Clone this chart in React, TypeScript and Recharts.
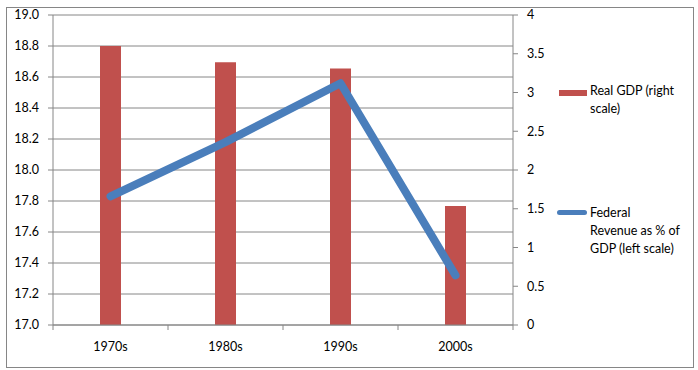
import React from 'react'
import { Bar, CartesianGrid, ComposedChart, Legend, Line, XAxis, YAxis } from 'recharts'

const categories = ['1970s', '1980s', '1990s', '2000s']
const realGdp = [3.6, 3.39, 3.31, 1.535]
const fedRevenue = [17.83, 18.18, 18.56, 17.32]
const leftTicks = [17.0, 17.2, 17.4, 17.6, 17.8, 18.0, 18.2, 18.4, 18.6, 18.8, 19.0]
const rightTicks = [0, 0.5, 1, 1.5, 2, 2.5, 3, 3.5, 4]

const data = categories.map((name, i) => ({
  name,
  gdp: realGdp[i],
  revenue: fedRevenue[i],
}))

const RED = '#c0504d'
const BLUE = '#4a7ebb'
const GRAY = '#868686'
const FONT = 'Lato, "Liberation Sans", sans-serif'
const X_MARGIN = 17

const CategoryTick = (props: any) => {
  const { x, y, payload, index, visibleTicksCount } = props
  const half = payload?.offset ?? 0
  const axisY = y - X_MARGIN
  return (
    <g>
      <line x1={x - half} x2={x - half} y1={axisY} y2={axisY + 5} stroke={GRAY} />
      {index === visibleTicksCount - 1 && (
        <line x1={x + half} x2={x + half} y1={axisY} y2={axisY + 5} stroke={GRAY} />
      )}
      <text x={x} y={y} dy="0.71em" textAnchor="middle" fill="#000" fontSize={12.5} fontFamily={FONT}>
        {payload.value}
      </text>
    </g>
  )
}

const LegendBox = () => (
  <div style={{ position: 'relative', width: 140, height: 190, fontFamily: FONT, fontSize: 12.5, lineHeight: '18px', color: '#000' }}>
    <div style={{ position: 'absolute', left: 4, top: 8, width: 28, height: 6, background: RED }} />
    <div style={{ position: 'absolute', left: 35, top: 0, whiteSpace: 'nowrap' }}>
      Real GDP (right<br />scale)
    </div>
    <div style={{ position: 'absolute', left: 2, top: 128, width: 30, height: 5, borderRadius: 3, background: BLUE }} />
    <div style={{ position: 'absolute', left: 35, top: 122, whiteSpace: 'nowrap' }}>
      Federal<br />Revenue as % of<br />GDP (left scale)
    </div>
  </div>
)

export default function App() {
  return (
    <div style={{ position: 'absolute', left: 0, top: 0, width: 698, height: 370, background: '#fff' }}>
      <div style={{ position: 'absolute', left: 6, top: 7, width: 686, height: 359, border: `1px solid ${GRAY}` }} />
      <ComposedChart width={698} height={370} data={data} margin={{ top: 15, right: 0, bottom: 0, left: 0 }}>
        <CartesianGrid yAxisId="left" vertical={false} stroke={GRAY} />
        <XAxis
          dataKey="name"
          height={45}
          stroke={GRAY}
          tickLine={false}
          tickSize={0}
          tickMargin={X_MARGIN}
          tick={<CategoryTick />}
          interval={0}
        />
        <YAxis
          yAxisId="left"
          width={53}
          domain={[17, 19]}
          ticks={leftTicks}
          interval={0}
          tickFormatter={(v: number) => v.toFixed(1)}
          stroke={GRAY}
          tickSize={5}
          tickMargin={9}
          tick={{ fill: '#000', fontSize: 12.5, fontFamily: FONT }}
        />
        <YAxis
          yAxisId="right"
          orientation="right"
          width={185}
          domain={[0, 4]}
          ticks={rightTicks}
          interval={0}
          stroke={GRAY}
          tickSize={5}
          tickMargin={9}
          tick={{ fill: '#000', fontSize: 12.5, fontFamily: FONT }}
        />
        <Bar yAxisId="right" dataKey="gdp" fill={RED} barSize={21} isAnimationActive={false} />
        <Line
          yAxisId="left"
          dataKey="revenue"
          stroke={BLUE}
          strokeWidth={8}
          strokeLinecap="round"
          strokeLinejoin="round"
          dot={false}
          activeDot={false}
          isAnimationActive={false}
        />
        <Legend
          layout="vertical"
          align="center"
          verticalAlign="middle"
          content={<LegendBox />}
          wrapperStyle={{ left: 555, top: 82, width: 140, height: 190 }}
        />
      </ComposedChart>
    </div>
  )
}
